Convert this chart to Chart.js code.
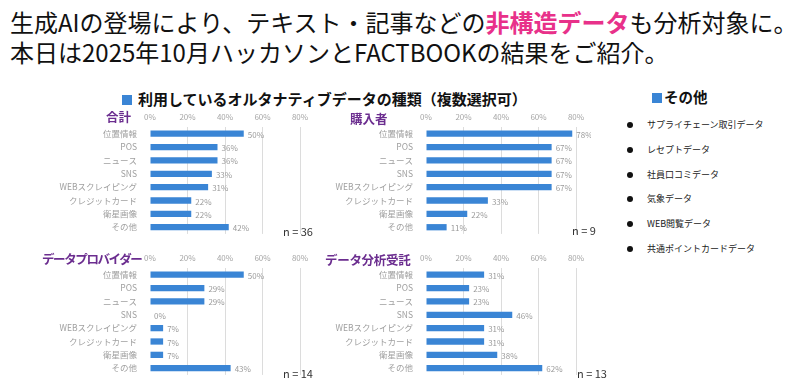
<!DOCTYPE html>
<html lang="ja">
<head>
<meta charset="utf-8">
<script src="https://cdn.jsdelivr.net/npm/chart.js@4/dist/chart.umd.min.js"></script>
<style>
  html, body { margin: 0; padding: 0; background: #fff; }
  body { width: 800px; height: 384px; position: relative; overflow: hidden;
         font-family: "Noto Sans CJK JP", "Noto Sans", sans-serif; color: #111; }
  .abs { position: absolute; white-space: nowrap; }
  #headline { left: 10px; top: 7px; font-size: 24px; line-height: 30px; }
  #headline .pink { color: #e8318a; font-weight: 700; }
  .sq { display: inline-block; width: 10px; height: 10px; background: #3a85d5; margin-right: 6px; vertical-align: 0px; }
  #subhead { left: 122px; top: 89px; font-size: 15px; line-height: 20px; font-weight: 700; }
  #otherHead { left: 652px; top: 87px; font-size: 14.5px; line-height: 20px; font-weight: 700; }
  .ptitle { font-size: 12.5px; line-height: 18px; font-weight: 700; color: #6b2d8f; }
  .nlabel { font-size: 11px; line-height: 14px; color: #333; }
  canvas { position: absolute; }
  #otherList { left: 624px; top: 117px; margin: 0; padding: 0; list-style: none; font-size: 9px; color: #222; }
  #otherList li { height: 24.8px; line-height: 16px; position: relative; padding-left: 23px; }
  #otherList li::before { content: ""; position: absolute; left: 3px; top: 5px; width: 6px; height: 6px; border-radius: 50%; background: #111; }
</style>
</head>
<body>
<div id="headline" class="abs">生成AIの登場により、テキスト・記事などの<span class="pink">非構造データ</span>も分析対象に。<br>本日は2025年10月ハッカソンとFACTBOOKの結果をご紹介。</div>
<div id="subhead" class="abs"><span class="sq"></span>利用しているオルタナティブデータの種類（複数選択可）</div>
<div id="otherHead" class="abs"><span class="sq" style="margin-right:2px"></span>その他</div>
<ul id="otherList" class="abs"></ul>

<canvas id="c0" width="260" height="136" style="left:55px; top:108px"></canvas>
<canvas id="c1" width="260" height="136" style="left:331px; top:108px"></canvas>
<canvas id="c2" width="260" height="136" style="left:55px; top:249px"></canvas>
<canvas id="c3" width="260" height="136" style="left:331px; top:249px"></canvas>

<script>
// データ
const categories = ['位置情報', 'POS', 'ニュース', 'SNS', 'WEBスクレイピング', 'クレジットカード', '衛星画像', 'その他'];
const totalValues = [50, 36, 36, 33, 31, 22, 22, 42];
const buyerValues = [78, 67, 67, 67, 67, 33, 22, 11];
const providerValues = [50, 29, 29, 0, 7, 7, 7, 43];
const analysisValues = [31, 23, 23, 46, 31, 31, 38, 62];
const xTicks = [0, 20, 40, 60, 80];
const panelTitles = ['合計', '購入者', 'データプロバイダー', 'データ分析受託'];
const sampleSizes = [36, 9, 14, 13];
const otherItems = ['サプライチェーン取引データ', 'レセプトデータ', '社員口コミデータ', '気象データ', 'WEB閲覧データ', '共通ポイントカードデータ'];

Chart.defaults.font.family = '"Noto Sans CJK JP", "Noto Sans", sans-serif';

// パネルの配置
const panels = [
    { id: 'c0', values: totalValues, titleLeft: 106, titleTop: 108, nLeft: 283, nTop: 224, spacing: 0 },
    { id: 'c1', values: buyerValues, titleLeft: 350, titleTop: 110, nLeft: 572, nTop: 223, spacing: 0 },
    { id: 'c2', values: providerValues, titleLeft: 42, titleTop: 250, nLeft: 283, nTop: 366, spacing: -1.4 },
    { id: 'c3', values: analysisValues, titleLeft: 325, titleTop: 251, nLeft: 577, nTop: 366, spacing: -0.3 },
];

// 棒の右側に % を描く
const valueLabels = {
    id: 'valueLabels',
    afterDatasetsDraw(chart) {
        const ctx = chart.ctx;
        const ds = chart.data.datasets[0];
        ctx.save();
        ctx.font = '8px "Noto Sans CJK JP", sans-serif';
        ctx.fillStyle = '#9a9a9a';
        ctx.textBaseline = 'middle';
        chart.getDatasetMeta(0).data.forEach((bar, i) => {
            ctx.fillText(ds.data[i] + '%', bar.x + 4, bar.y + 1);
        });
        ctx.restore();
    }
};

panels.forEach((p, k) => {
    const t = document.createElement('div');
    t.className = 'abs ptitle';
    t.style.left = p.titleLeft + 'px';
    t.style.top = p.titleTop + 'px';
    t.style.letterSpacing = p.spacing + 'px';
    t.textContent = panelTitles[k];
    document.body.appendChild(t);

    const n = document.createElement('div');
    n.className = 'abs nlabel';
    n.style.left = p.nLeft + 'px';
    n.style.top = p.nTop + 'px';
    n.textContent = 'n = ' + sampleSizes[k];
    document.body.appendChild(n);

    new Chart(document.getElementById(p.id), {
        type: 'bar',
        data: {
            labels: categories,
            datasets: [{
                data: p.values,
                backgroundColor: '#3a85d5',
                categoryPercentage: 1,
                barPercentage: 0.47,
            }]
        },
        options: {
            indexAxis: 'y',
            responsive: false,
            animation: false,
            layout: { padding: { right: 15, bottom: 4 } },
            scales: {
                x: {
                    position: 'top',
                    min: 0,
                    max: 80,
                    afterFit: s => { s.height = 19; },
                    afterBuildTicks: s => { s.ticks = xTicks.map(v => ({ value: v })); },
                    ticks: { color: '#a5a5a5', font: { size: 8 }, padding: 5, callback: v => v + '%' },
                    grid: {
                        drawTicks: false,
                        color: c => c.tick && c.tick.value === 0 ? 'rgba(0,0,0,0)' : '#dcdcdc'
                    },
                    border: { display: false }
                },
                y: {
                    afterFit: s => { s.width = 95; },
                    ticks: { color: '#a0a0a0', font: { size: 8.5 }, padding: 5 },
                    grid: { display: false },
                    border: { display: false }
                }
            },
            plugins: {
                legend: { display: false },
                tooltip: { enabled: false }
            }
        },
        plugins: [valueLabels]
    });
});

const list = document.getElementById('otherList');
otherItems.forEach(txt => {
    const li = document.createElement('li');
    li.textContent = txt;
    list.appendChild(li);
});
</script>
</body>
</html>
